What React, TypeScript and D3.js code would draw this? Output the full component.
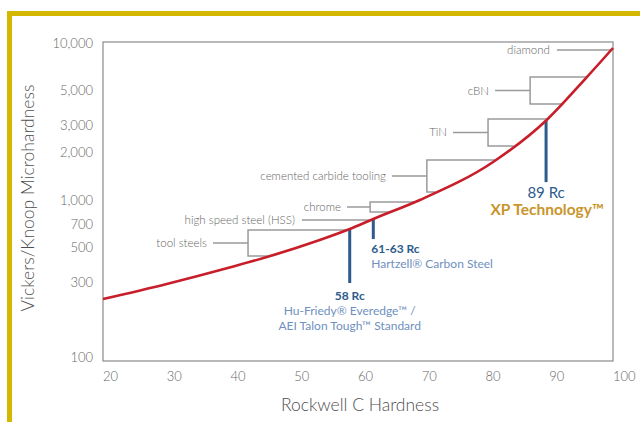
import React from "react";
import * as d3 from "d3";

// Curve data (Rockwell C vs Vickers/Knoop)
const rockwell = [20, 30, 40, 45.7, 54, 58.7, 62.4, 69.7, 81.2, 89.6, 95.9, 100];
const hardness = [234, 292, 373, 433, 556, 653, 757, 1000, 1746, 3233, 6067, 9294];

const xTicks = [20, 30, 40, 50, 60, 70, 80, 90, 100];
const yTicks = [100, 300, 500, 700, 1000, 2000, 3000, 5000, 10000];

// Bracketed material ranges
const bracketLabels = ["tool steels", "chrome", "cemented carbide tooling", "TiN", "cBN"];
const bracketLow = [440, 839, 1124, 2207, 4083];
const bracketHigh = [644, 971, 1800, 3282, 6067];
const bracketRc = [42.75, 61.9, 70.8, 80.4, 87.0];
const bracketLeaderRc = [37.25, 58.27, 65.33, 74.9, 81.5];

// Single-value material lines
const lineLabels = ["high speed steel (HSS)", "diamond"];
const lineHv = [746, 9016];
const lineLeaderRc = [51.2, 91.2];

// Product markers
const markerRc = [58.7, 62.4, 89.5];
const markerBottomHv = [296, 564, 1300];
const markerTitles = ["58 Rc", "61-63 Rc", "89 Rc"];

const W = 640;
const H = 422;
const L = 103, R = 613, T = 43, B = 357;

export default function App() {
  const x = d3.scaleLinear().domain([20, 100]).range([L, R]);
  const y = d3.scaleLog().domain([100, 10000]).range([B, T]);
  const logH = hardness.map((v) => Math.log10(v));
  const rcAt = d3.scaleLinear().domain(logH).range(rockwell);
  const hvAtRc = (rc: number) => Math.pow(10, d3.scaleLinear().domain(rockwell).range(logH)(rc));

  const pts = rockwell.map((r, i) => [r, hardness[i]] as [number, number]);
  const line = d3
    .line<[number, number]>()
    .x((d) => x(d[0]))
    .y((d) => y(d[1]))
    .curve(d3.curveMonotoneX);

  const fmt = d3.format(",");
  const font = "Lato, 'Open Sans', sans-serif";
  const gray = "#9a9a9a";
  const textGray = "#666";
  const blue = "#2d5c8c";
  const lightBlue = "#6f90c0";
  const gold = "#c9952b";
  const red = "#c81e2a";

  return (
    <svg width={W} height={H} style={{ position: "absolute", left: 0, top: 0 }} fontFamily={font}>
      <rect x={0} y={0} width={W} height={H} fill="#fff" />
      {/* frame */}
      <rect x={7} y={11} width={W - 7} height={5} fill="#d4b800" />
      <rect x={7} y={11} width={5} height={H - 11} fill="#d4b800" />

      {/* plot box */}
      <rect x={L} y={T - 1} width={R - L} height={B - T + 5} fill="none" stroke="#8a8a8a" strokeWidth={1.2} />

      {/* y ticks */}
      {yTicks.map((t) => (
        <text key={t} x={93} y={y(t) + 4.5} textAnchor="end" fontSize={13} fontWeight={300} fill={textGray}>
          {fmt(t)}
        </text>
      ))}
      {/* x ticks */}
      {xTicks.map((t) => (
        <text key={t} x={x(t)} y={381} textAnchor="start" fontSize={13} fontWeight={300} fill={textGray}>
          {t}
        </text>
      ))}

      <text x={360} y={411} textAnchor="middle" fontSize={17.5} fontWeight={300} fill="#4f4f4f">
        Rockwell C Hardness
      </text>
      <text
        transform={`translate(34,198) rotate(-90)`}
        textAnchor="middle"
        fontSize={17.5}
        fontWeight={300}
        fill="#4f4f4f"
      >
        Vickers/Knoop Microhardness
      </text>

      {/* brackets */}
      {bracketLabels.map((lab, i) => {
        const xl = x(bracketRc[i]);
        const yh = y(bracketHigh[i]);
        const yl = y(bracketLow[i]);
        const xh = x(rcAt(Math.log10(bracketHigh[i])));
        const xlo = x(rcAt(Math.log10(bracketLow[i])));
        const ym = (yh + yl) / 2;
        const xs = x(bracketLeaderRc[i]);
        return (
          <g key={lab}>
            <path
              d={`M${xh},${yh}H${xl}V${yl}H${xlo}`}
              fill="none"
              stroke={gray}
              strokeWidth={1.5}
            />
            <line x1={xs} x2={xl} y1={ym} y2={ym} stroke={gray} strokeWidth={1.5} />
            <text x={xs - 6} y={ym + 4} textAnchor="end" fontSize={11.5} fontWeight={300} fill={textGray}>
              {lab}
            </text>
          </g>
        );
      })}

      {/* single lines */}
      {lineLabels.map((lab, i) => {
        const yy = y(lineHv[i]);
        const xs = x(lineLeaderRc[i]);
        const xe = x(Math.min(100, rcAt(Math.log10(lineHv[i]))));
        return (
          <g key={lab}>
            <line x1={xs} x2={xe} y1={yy} y2={yy} stroke={gray} strokeWidth={1.5} />
            <text x={xs - 7} y={yy + 4} textAnchor="end" fontSize={11.5} fontWeight={300} fill={textGray}>
              {lab}
            </text>
          </g>
        );
      })}

      {/* markers */}
      {markerRc.map((rc, i) => (
        <line
          key={i}
          x1={x(rc)}
          x2={x(rc)}
          y1={y(hvAtRc(rc))}
          y2={y(markerBottomHv[i])}
          stroke={blue}
          strokeWidth={3}
        />
      ))}

      {/* curve */}
      <path d={line(pts) || ""} fill="none" stroke={red} strokeWidth={2.6} />

      {/* marker texts */}
      <text x={x(markerRc[0])} y={y(markerBottomHv[0]) + 17} textAnchor="middle" fontSize={12} fontWeight={700} fill={blue}>
        {markerTitles[0]}
      </text>
      <text x={x(markerRc[0])} y={y(markerBottomHv[0]) + 32} textAnchor="middle" fontSize={12} fill={lightBlue}>
        Hu-Friedy® Everedge™ /
      </text>
      <text x={x(markerRc[0])} y={y(markerBottomHv[0]) + 47} textAnchor="middle" fontSize={12} fill={lightBlue}>
        AEI Talon Tough™ Standard
      </text>

      <text x={x(markerRc[1]) - 2} y={y(markerBottomHv[1]) + 14} textAnchor="start" fontSize={12} fontWeight={700} fill={blue}>
        {markerTitles[1]}
      </text>
      <text x={x(markerRc[1]) - 2} y={y(markerBottomHv[1]) + 29} textAnchor="start" fontSize={12} fill={lightBlue}>
        Hartzell® Carbon Steel
      </text>

      <text x={x(markerRc[2])} y={y(markerBottomHv[2]) + 16} textAnchor="middle" fontSize={15} fill={blue}>
        {markerTitles[2]}
      </text>
      <text x={x(markerRc[2]) + 1} y={y(markerBottomHv[2]) + 33} textAnchor="middle" fontSize={15.5} fontWeight={700} fill={gold}>
        XP Technology™
      </text>
    </svg>
  );
}
